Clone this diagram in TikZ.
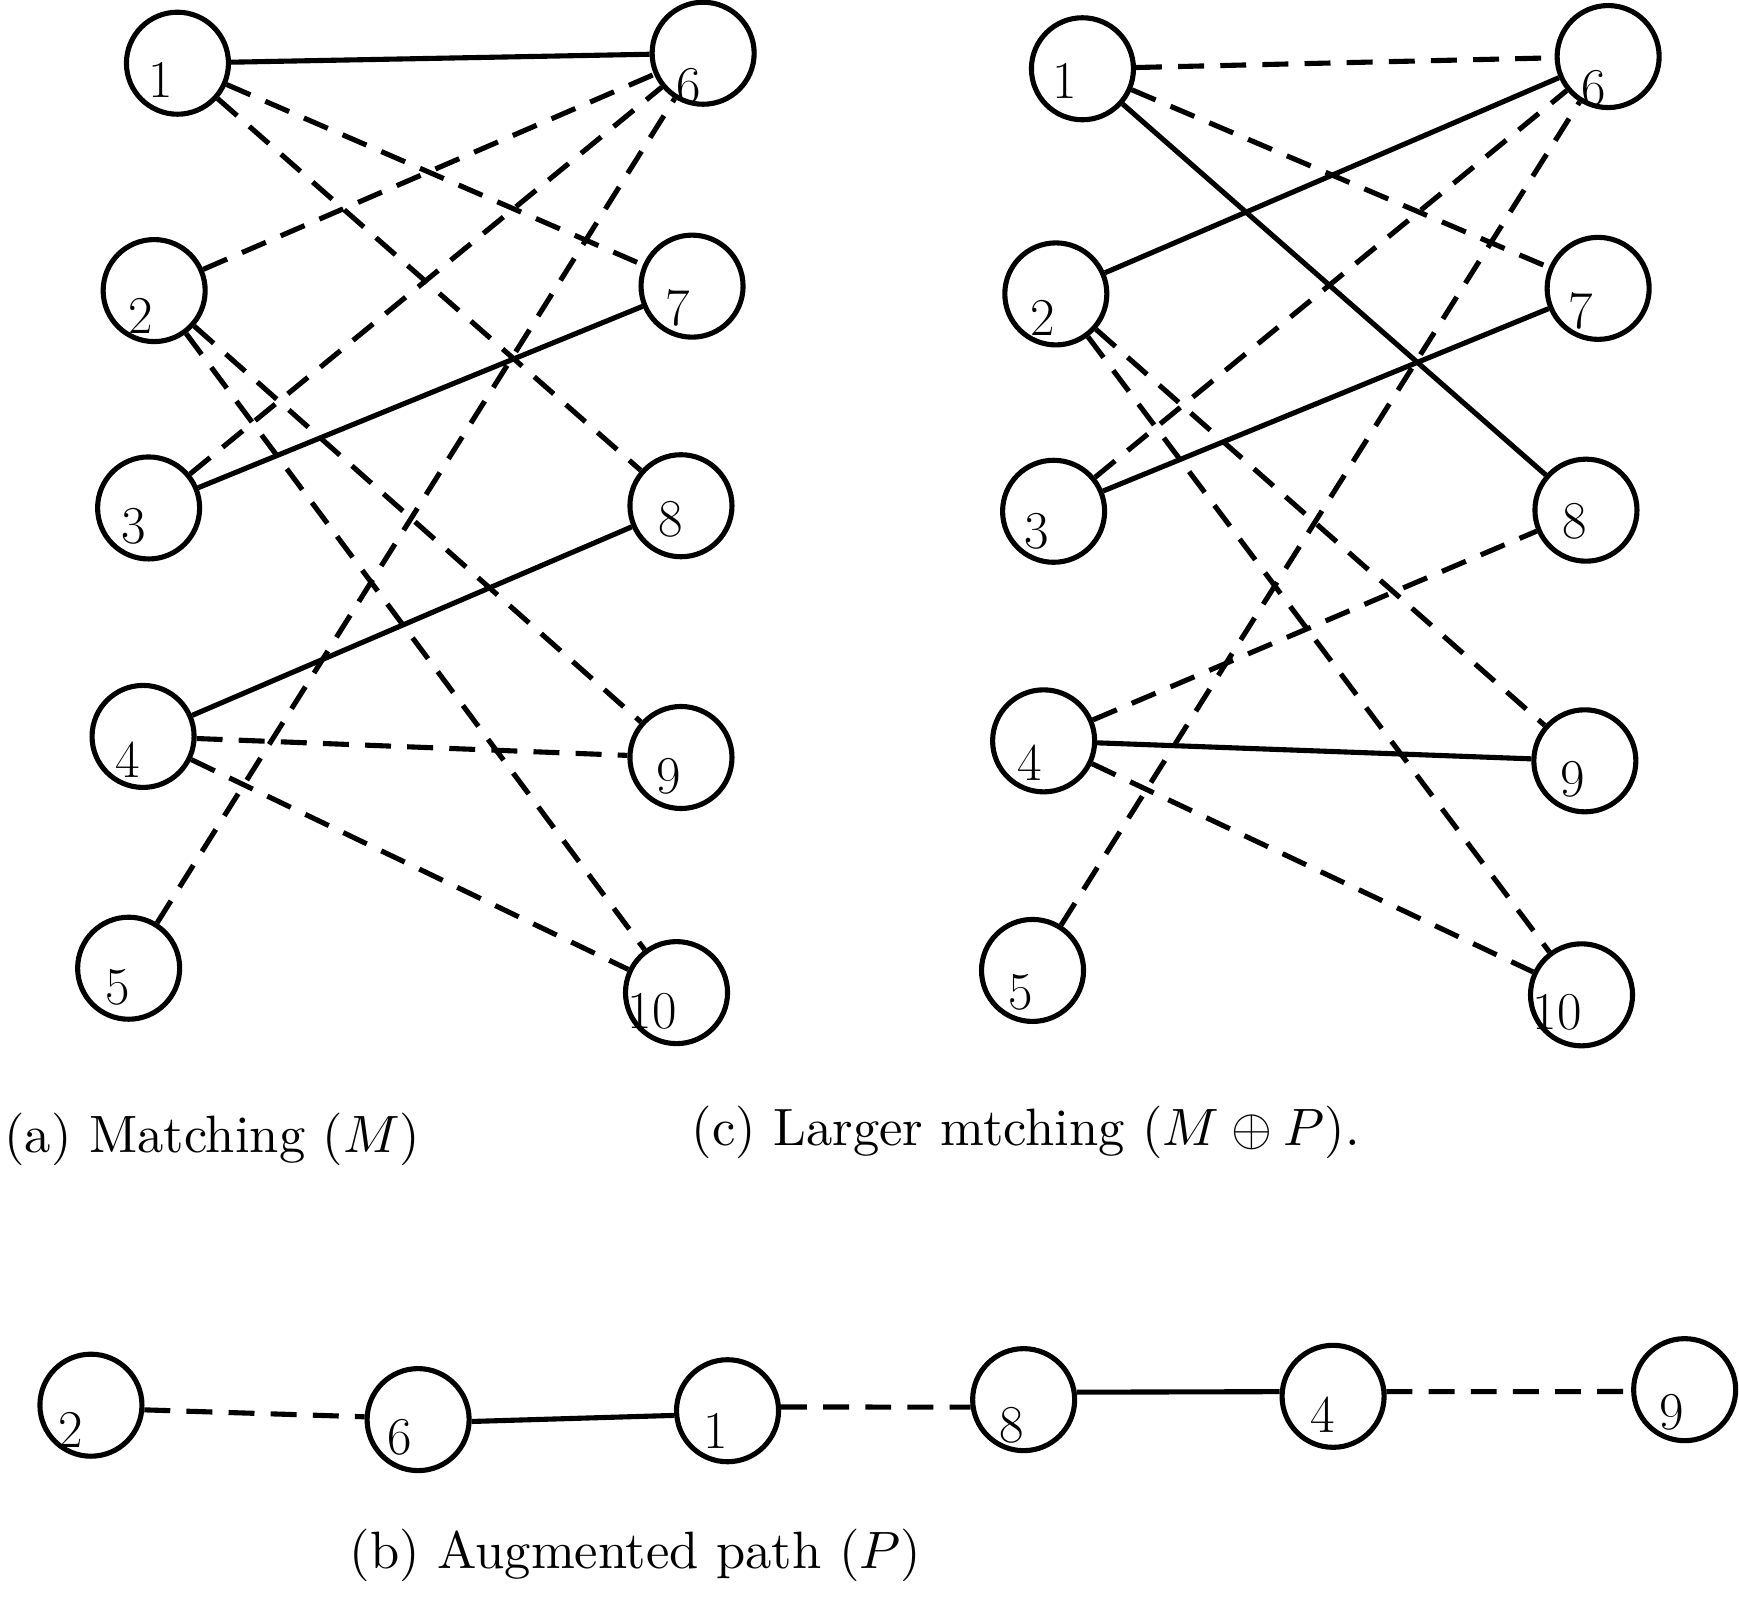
\documentclass[tikz,border=0pt]{standalone}
\usetikzlibrary{calc}
\begin{document}
\begin{tikzpicture}[x=0.5pt,y=-0.5pt,
  vert/.style={circle,draw,line width=2.3pt,minimum size=46pt,inner sep=0pt},
  lbl/.style={inner sep=0pt,font=\fontsize{24}{28}\selectfont},
  captext/.style={inner sep=0pt},
  sol/.style={line width=2.3pt},
  dsh/.style={line width=2.3pt,dash pattern=on 11.7pt off 7.3pt}]
\useasboundingbox (0,0) rectangle (1568,1451);
\newcommand{\vx}[6]{\node[vert] (#1) at (#2,#3) {}; \node[lbl] (#1l) at (#4,#5) {#6};}
% graph (a)
\vx{a1}{160}{57}{145}{72}{1}
\vx{a2}{139}{262}{127}{285}{2}
\vx{a3}{134}{458}{121}{475}{3}
\vx{a4}{129}{664}{115}{685}{4}
\vx{a5}{116}{873}{106}{890}{5}
\vx{a6}{634}{48}{621}{78}{6}
\vx{a7}{624}{258}{611}{278}{7}
\vx{a8}{614}{456}{605}{468}{8}
\vx{a9}{614}{683}{603}{700}{9}
\vx{a10}{610}{895}{588}{912}{10}
\draw[sol] (a1) -- (a6);
\draw[dsh] (a1) -- (a7);
\draw[dsh] (a1) -- (a8);
\draw[dsh] (a2) -- (a6);
\draw[dsh] (a3) -- (a6);
\draw[dsh] (a5) -- (a6);
\draw[dsh] (a2) -- (a9);
\draw[dsh] (a2) -- (a10);
\draw[sol] (a3) -- (a7);
\draw[sol] (a4) -- (a8);
\draw[dsh] (a4) -- (a9);
\draw[dsh] (a4) -- (a10);
% graph (c)
\vx{c1}{976}{62}{960}{73}{1}
\vx{c2}{952}{265}{940}{287}{2}
\vx{c3}{950}{461}{935}{479}{3}
\vx{c4}{941}{668}{928}{688}{4}
\vx{c5}{931}{875}{920}{895}{5}
\vx{c6}{1450}{51}{1437}{80}{6}
\vx{c7}{1441}{260}{1425}{280}{7}
\vx{c8}{1430}{460}{1420}{470}{8}
\vx{c9}{1429}{686}{1418}{703}{9}
\vx{c10}{1426}{897}{1404}{913}{10}
\draw[dsh] (c1) -- (c6);
\draw[dsh] (c1) -- (c7);
\draw[sol] (c1) -- (c8);
\draw[sol] (c2) -- (c6);
\draw[dsh] (c3) -- (c6);
\draw[dsh] (c5) -- (c6);
\draw[dsh] (c2) -- (c9);
\draw[dsh] (c2) -- (c10);
\draw[sol] (c3) -- (c7);
\draw[dsh] (c4) -- (c8);
\draw[sol] (c4) -- (c9);
\draw[dsh] (c4) -- (c10);
% path (b)
\vx{b2}{82}{1267}{64}{1289}{2}
\vx{b6}{377}{1280}{360}{1296}{6}
\vx{b1}{656}{1272}{645}{1290}{1}
\vx{b8}{923}{1262}{912}{1285}{8}
\vx{b4}{1202}{1259}{1193}{1276}{4}
\vx{b9}{1519}{1253}{1507}{1273}{9}
\draw[dsh] (b2.-5) -- (b6.177);
\draw[sol] (b6.-2) -- (b1.185);
\draw[dsh] (b1.4) -- (b8.188);
\draw[sol] (b8.8) -- (b4.175);
\draw[dsh] (b4.5) -- (b9.182);
% captions
\node[captext] (capa) at (191.5,1027) {\scalebox{2.37}{(a) Matching ($M$)}};
\node[captext] (capc) at (925,1021) {\scalebox{2.37}{(c) Larger mtching ($M \oplus P$).}};
\node[captext] (capb) at (573,1402) {\scalebox{2.37}{(b) Augmented path ($P$)}};
\end{tikzpicture}
\end{document}
